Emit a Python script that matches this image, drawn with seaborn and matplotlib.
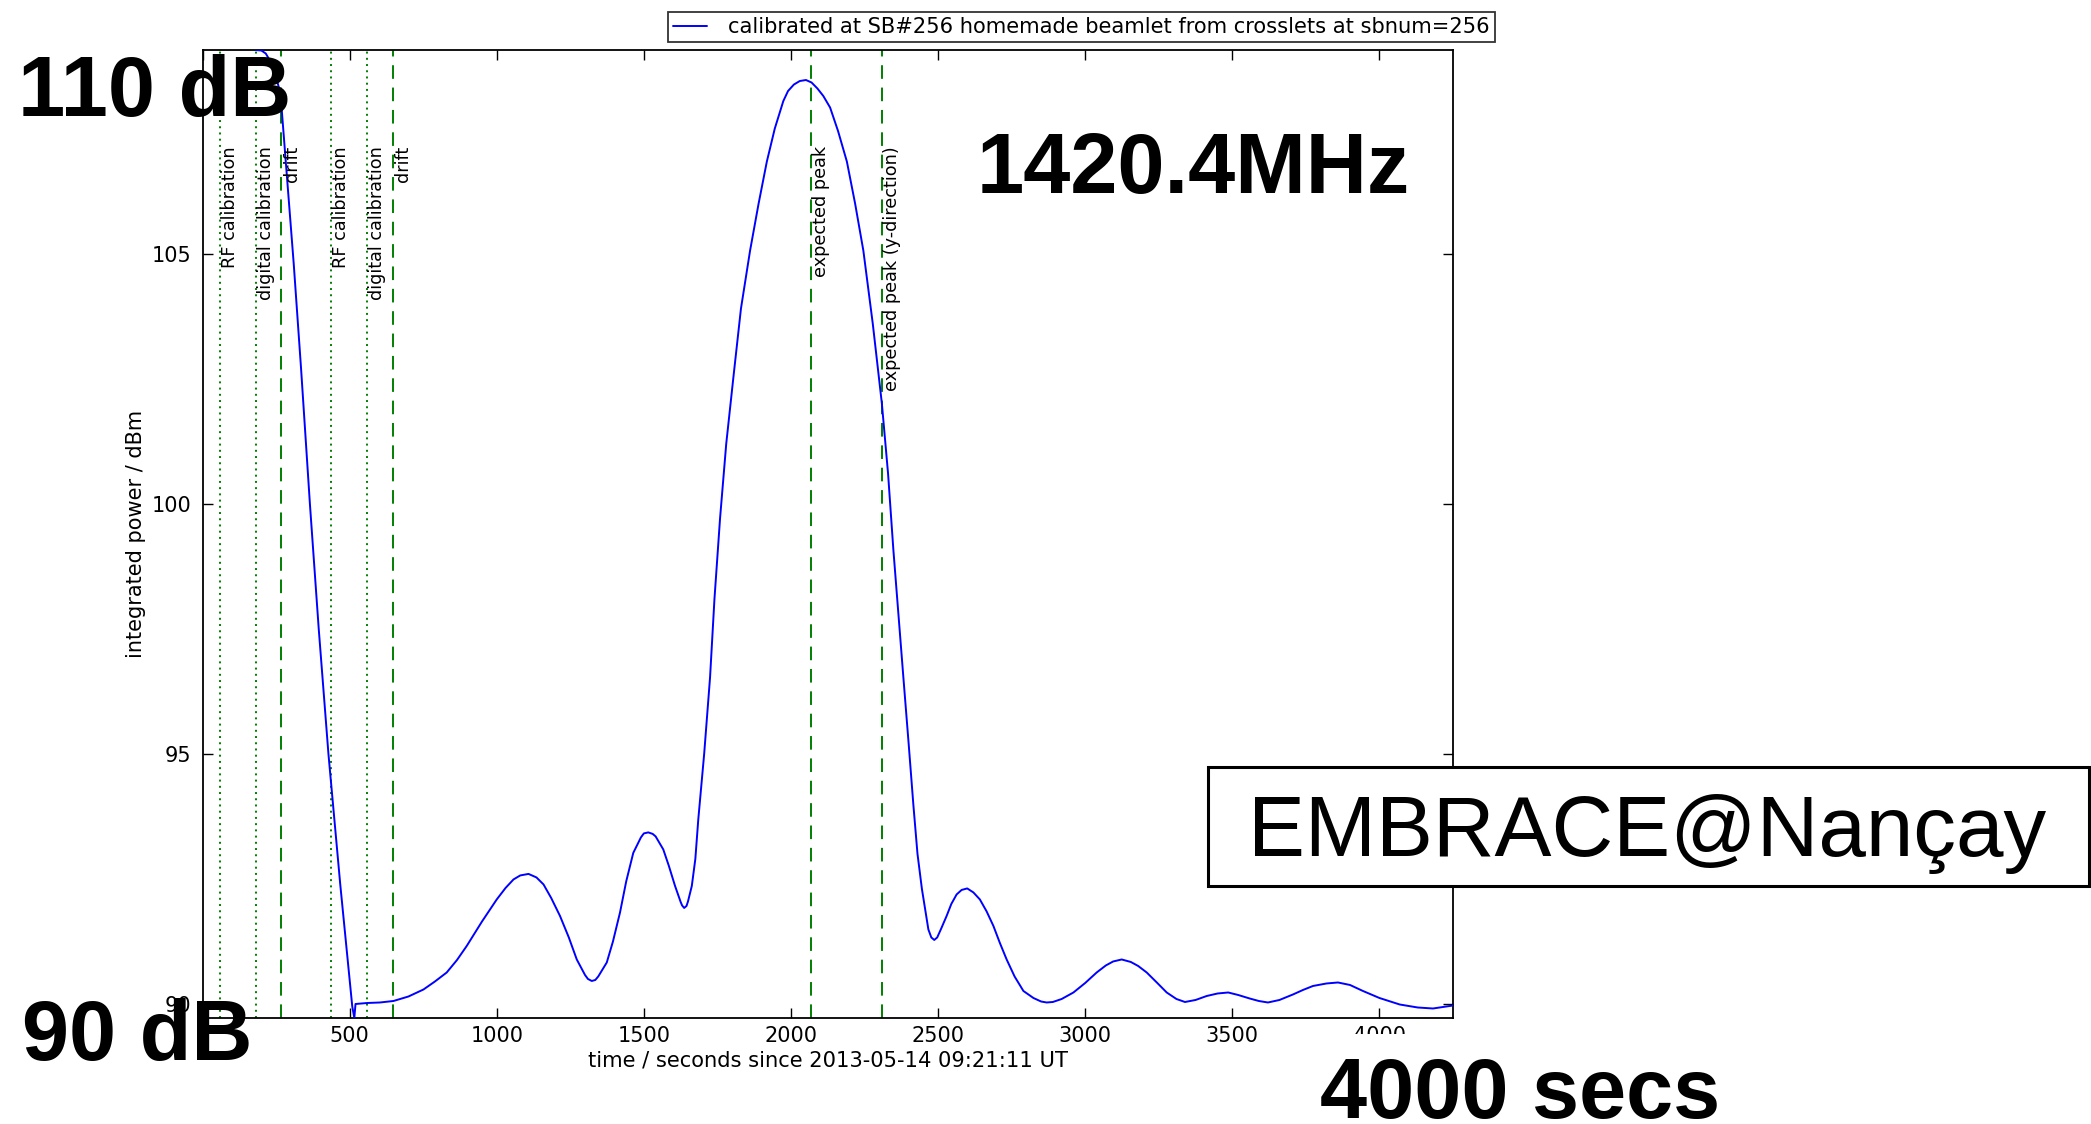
import matplotlib
matplotlib.use("Agg")
import matplotlib.pyplot as plt
import seaborn as sns
import pandas as pd
from matplotlib.patches import Rectangle

# ---------------- data ----------------
time_s = [180, 200, 215, 240, 265, 290, 310, 335, 365, 395, 428, 468, 509, 516, 520,
          560, 603, 649, 700, 751, 790, 830, 865, 898, 950, 1000, 1030, 1057,
          1080, 1108, 1135, 1159, 1185, 1215, 1245, 1272, 1300, 1310, 1323,
          1335, 1345, 1374, 1395, 1419, 1440, 1464, 1490, 1500, 1515, 1530,
          1540, 1566, 1585, 1606, 1625, 1630, 1637, 1645, 1650, 1663, 1675,
          1685, 1705, 1725, 1740, 1759, 1780, 1804, 1830, 1861, 1890, 1918,
          1945, 1974, 1990, 2010, 2030, 2051, 2070, 2090, 2110, 2133, 2160,
          2190, 2218, 2246, 2278, 2309, 2330, 2348, 2365, 2382, 2400, 2416,
          2430, 2445, 2467, 2477, 2487, 2497, 2510, 2529, 2545, 2563, 2580,
          2599, 2620, 2642, 2665, 2688, 2710, 2733, 2760, 2790, 2824, 2850,
          2869, 2890, 2920, 2960, 3000, 3039, 3070, 3095, 3124, 3155, 3180,
          3209, 3245, 3277, 3310, 3339, 3375, 3413, 3450, 3486, 3520, 3559,
          3590, 3621, 3660, 3706, 3740, 3774, 3820, 3859, 3900, 3944, 4000,
          4069, 4130, 4182, 4250]
power_dbm = [109.07, 109.06, 109.0, 108.75, 108.2, 106.3, 104.8, 102.7, 100.0,
             97.5, 95.0, 92.4, 89.95, 89.72, 90.0,
             90.02, 90.03, 90.06, 90.15, 90.29, 90.45, 90.63, 90.88, 91.16,
             91.65, 92.09, 92.32, 92.49, 92.57, 92.60, 92.53, 92.39, 92.12,
             91.76, 91.33, 90.89, 90.58, 90.5, 90.46, 90.48, 90.55, 90.83,
             91.25, 91.83, 92.45, 93.02, 93.33, 93.41, 93.43, 93.40, 93.35,
             93.09, 92.76, 92.36, 92.04, 91.97, 91.92, 91.96, 92.05, 92.36,
             92.9, 93.69, 95.0, 96.53, 98.1, 99.71, 101.2, 102.51, 103.9,
             105.06, 106.0, 106.84, 107.5, 108.05, 108.25, 108.38, 108.45,
             108.47, 108.42, 108.3, 108.15, 107.92, 107.45, 106.84, 106.0,
             105.06, 103.6, 102.0, 100.6, 99.08, 97.8, 96.53, 95.2, 93.98,
             93.0, 92.3, 91.49, 91.33, 91.28, 91.33, 91.5, 91.76, 92.0, 92.19,
             92.28, 92.31, 92.23, 92.09, 91.85, 91.56, 91.22, 90.89, 90.55,
             90.26, 90.12, 90.05, 90.03, 90.04, 90.1, 90.23, 90.42, 90.63,
             90.77, 90.85, 90.89, 90.84, 90.76, 90.63, 90.42, 90.23, 90.1,
             90.04, 90.08, 90.16, 90.21, 90.23, 90.18, 90.11, 90.06, 90.03,
             90.08, 90.19, 90.28, 90.36, 90.41, 90.43, 90.38, 90.26, 90.12,
             89.99, 89.93, 89.91, 89.97]

marker_times = [58, 181, 268, 436, 560, 647, 2068, 2310]
marker_labels = ["RF calibration", "digital calibration", "drift",
                 "RF calibration", "digital calibration", "drift",
                 "expected peak", "expected peak (y-direction)"]
marker_kinds = ["dotted", "dotted", "dashed", "dotted", "dotted", "dashed",
                "dashed", "dashed"]

x_ticks = [0, 500, 1000, 1500, 2000, 2500, 3000, 3500, 4000]
y_ticks = [90, 95, 100, 105]
legend_label = "calibrated at SB#256 homemade beamlet from crosslets at sbnum=256"
x_label = "time / seconds since 2013-05-14 09:21:11 UT"
y_label = "integrated power / dBm"

# ---------------- style ----------------
sns.set_theme(style="ticks")
plt.rcParams["font.family"] = ["DejaVu Sans"]
plt.rcParams["text.color"] = "black"
plt.rcParams["axes.labelcolor"] = "black"
plt.rcParams["axes.edgecolor"] = "black"
plt.rcParams["xtick.color"] = "black"
plt.rcParams["ytick.color"] = "black"

W, H = 2091, 1124
fig = plt.figure(figsize=(W / 100, H / 100), dpi=100)
fig.patch.set_facecolor("white")
ax = fig.add_axes([202.5 / W, 1 - 1018 / H, (1453 - 202.5) / W, (1018 - 50) / H])
ax.set_facecolor("white")

df = pd.DataFrame({"t": time_s, "p": power_dbm})
sns.lineplot(data=df, x="t", y="p", ax=ax, color="#0000ff", linewidth=1.4,
             sort=False, estimator=None, label=legend_label, zorder=3)

green = "#008000"
for t, lab, kind in zip(marker_times, marker_labels, marker_kinds):
    if kind == "dotted":
        ls = (0, (1, 2.2))
    else:
        ls = (0, (7, 4.5))
    ax.axvline(t, color=green, linestyle=ls, linewidth=1.4, zorder=2)
    ax.text(t + 4, 107.15, lab, rotation=90, ha="left", va="top",
            fontsize=12.7, color="black", zorder=4)

ax.set_xlim(0, 4250)
ax.set_ylim(89.72, 109.07)
ax.set_xticks(x_ticks)
ax.set_yticks(y_ticks)
ax.tick_params(axis="both", direction="in", length=7, width=1,
               top=True, right=True, labelsize=15)
ax.tick_params(axis="x", pad=6)
ax.tick_params(axis="y", pad=8)
for s in ax.spines.values():
    s.set_visible(True)
    s.set_linewidth(1.3)
    s.set_color("black")

ax.set_xlabel(x_label, fontsize=15.1, labelpad=3)
ax.set_ylabel(y_label, fontsize=15, labelpad=4)

leg = ax.legend(loc="upper left", bbox_to_anchor=(668 / W, 1 - 12 / H),
                bbox_transform=fig.transFigure, fontsize=15.1, frameon=True,
                fancybox=False, borderpad=0.25, borderaxespad=0,
                handlelength=1.6, handletextpad=1.0)
leg.get_frame().set_edgecolor("black")
leg.get_frame().set_linewidth(1.3)

# ---------------- overlay annotations ----------------
big = dict(fontsize=61, fontweight="bold", family="Liberation Sans",
           color="black", ha="left", va="baseline", zorder=10)
fig.text(18 / W, 1 - 116 / H, "110 dB", **big)
fig.text(22 / W, 1 - 1060 / H, "90 dB", **big)
fig.text(977 / W, 1 - 193 / H, "1420.4MHz", **big)
fig.text(1320 / W, 1 - 1118 / H, "4000 secs",
         bbox=dict(facecolor="white", edgecolor="none", pad=16), **big)

box = Rectangle((1208 / W, 1 - 886 / H), (2089 - 1208) / W, (886 - 767) / H,
                transform=fig.transFigure, facecolor="white",
                edgecolor="black", linewidth=2.2, zorder=8)
fig.add_artist(box)
fig.text(1248 / W, 1 - 856 / H, "EMBRACE@Nançay", fontsize=61.5,
         family="Liberation Sans", color="black", ha="left", va="baseline",
         zorder=11)

fig.savefig("out.png", dpi=100)
